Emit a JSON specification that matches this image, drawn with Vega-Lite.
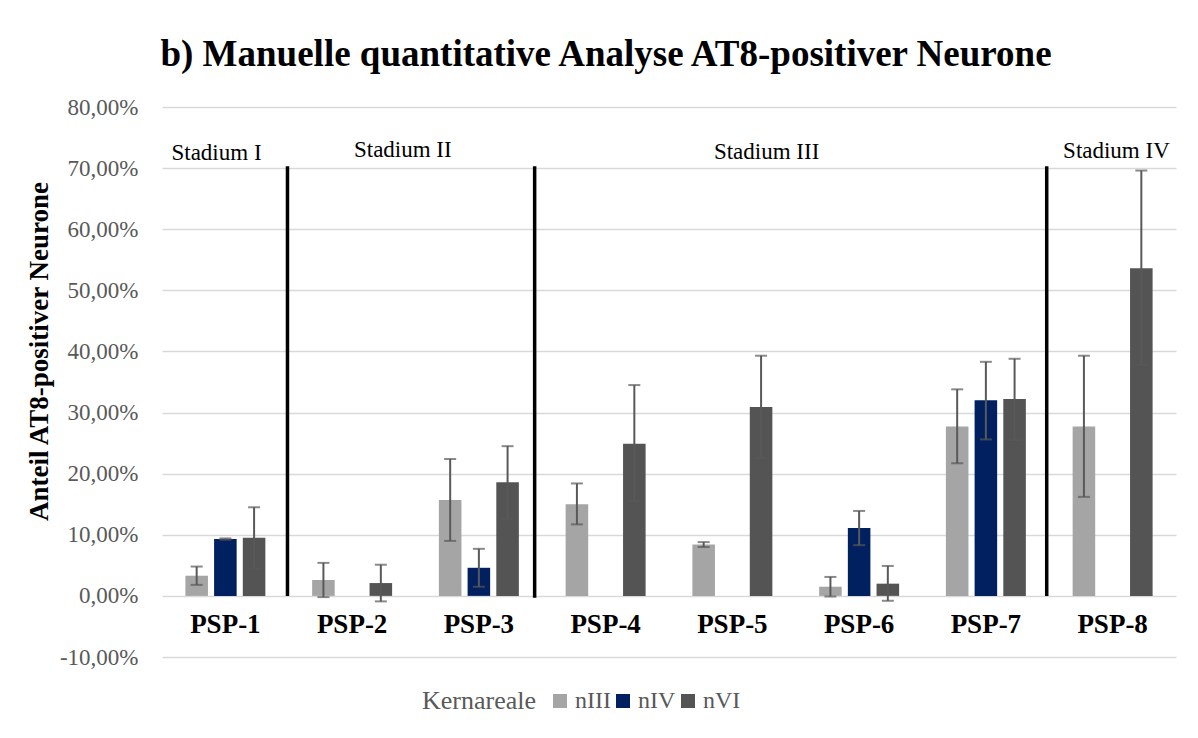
{
  "$schema": "https://vega.github.io/schema/vega-lite/v6.json",
  "autosize": "none",
  "width": 1014,
  "height": 550,
  "padding": {"left": 162, "top": 107, "right": 22, "bottom": 81},
  "background": "white",
  "title": {
    "text": "b) Manuelle quantitative Analyse AT8-positiver Neurone",
    "font": "Liberation Serif",
    "fontSize": 37,
    "fontWeight": "bold",
    "color": "black",
    "anchor": "middle",
    "offset": 22,
    "dx": -63
  },
  "config": {"view": {"stroke": null}, "font": "Liberation Serif"},
  "datasets": {
    "bars": [
      {"psp": "PSP-1", "area": "nIII", "value": 0.033, "lo": 0.018, "hi": 0.048},
      {"psp": "PSP-1", "area": "nIV", "value": 0.093, "lo": 0.092, "hi": 0.094},
      {"psp": "PSP-1", "area": "nVI", "value": 0.095, "lo": 0.045, "hi": 0.145},
      {"psp": "PSP-2", "area": "nIII", "value": 0.026, "lo": -0.002, "hi": 0.054},
      {"psp": "PSP-2", "area": "nVI", "value": 0.021, "lo": -0.009, "hi": 0.051},
      {"psp": "PSP-3", "area": "nIII", "value": 0.157, "lo": 0.090, "hi": 0.224},
      {"psp": "PSP-3", "area": "nIV", "value": 0.046, "lo": 0.015, "hi": 0.077},
      {"psp": "PSP-3", "area": "nVI", "value": 0.186, "lo": 0.126, "hi": 0.245},
      {"psp": "PSP-4", "area": "nIII", "value": 0.150, "lo": 0.117, "hi": 0.184},
      {"psp": "PSP-4", "area": "nVI", "value": 0.249, "lo": 0.155, "hi": 0.345},
      {"psp": "PSP-5", "area": "nIII", "value": 0.084, "lo": 0.080, "hi": 0.088},
      {"psp": "PSP-5", "area": "nVI", "value": 0.309, "lo": 0.226, "hi": 0.393},
      {"psp": "PSP-6", "area": "nIII", "value": 0.015, "lo": -0.001, "hi": 0.031},
      {"psp": "PSP-6", "area": "nIV", "value": 0.111, "lo": 0.083, "hi": 0.139},
      {"psp": "PSP-6", "area": "nVI", "value": 0.020, "lo": -0.008, "hi": 0.049},
      {"psp": "PSP-7", "area": "nIII", "value": 0.277, "lo": 0.217, "hi": 0.338},
      {"psp": "PSP-7", "area": "nIV", "value": 0.320, "lo": 0.256, "hi": 0.383},
      {"psp": "PSP-7", "area": "nVI", "value": 0.322, "lo": 0.255, "hi": 0.388},
      {"psp": "PSP-8", "area": "nIII", "value": 0.277, "lo": 0.162, "hi": 0.393},
      {"psp": "PSP-8", "area": "nVI", "value": 0.536, "lo": 0.378, "hi": 0.696}
    ],
    "stages": [
      {"label": "Stadium I", "pos": 0.43, "ypos": 0.725},
      {"label": "Stadium II", "pos": 1.90, "ypos": 0.730},
      {"label": "Stadium III", "pos": 4.77, "ypos": 0.727},
      {"label": "Stadium IV", "pos": 7.53, "ypos": 0.728}
    ],
    "seps": [
      {"pos": 0.99, "y0": 0.0, "y1": 0.703},
      {"pos": 2.94, "y0": -0.003, "y1": 0.703},
      {"pos": 6.98, "y0": 0.0, "y1": 0.703}
    ]
  },
  "resolve": {"scale": {"x": "independent"}},
  "layer": [
    {
      "data": {"name": "bars"},
      "encoding": {
        "x": {
          "field": "psp",
          "type": "nominal",
          "sort": null,
          "scale": {"paddingInner": 0.36, "paddingOuter": 0.18},
          "axis": {
            "title": null,
            "orient": "bottom",
            "offset": -61,
            "domain": false,
            "ticks": false,
            "grid": false,
            "labelAngle": 0,
            "labelFont": "Liberation Serif",
            "labelFontSize": 27,
            "labelFontWeight": "bold",
            "labelColor": "black",
            "labelPadding": 15
          }
        },
        "xOffset": {
          "field": "area",
          "type": "nominal",
          "sort": ["nIII", "nIV", "nVI"],
          "scale": {"domain": ["nIII", "nIV", "nVI"], "paddingInner": 0.214, "paddingOuter": 0.02}
        }
      },
      "layer": [
        {
          "mark": {"type": "bar"},
          "encoding": {
            "y": {
              "field": "value",
              "type": "quantitative",
              "scale": {"domain": [-0.1, 0.8], "nice": false, "zero": true},
              "axis": {
                "title": "Anteil AT8-positiver Neurone",
                "values": [-0.1, 0, 0.1, 0.2, 0.3, 0.4, 0.5, 0.6, 0.7, 0.8],
                "labelExpr": "replace(replace(format(datum.value, '.2%'), '.', ','), '\u2212', '-')",
                "domain": false,
                "ticks": false,
                "grid": true,
                "gridColor": "#D9D9D9",
                "gridWidth": 1.5,
                "labelFont": "Liberation Serif",
                "labelFontSize": 23,
                "labelColor": "#595959",
                "labelPadding": 24,
                "titleFont": "Liberation Serif",
                "titleFontSize": 27,
                "titleFontWeight": "bold",
                "titleColor": "black",
                "titlePadding": 6,
                "titleY": 244
              }
            },
            "color": {
              "field": "area",
              "type": "nominal",
              "scale": {"domain": ["nIII", "nIV", "nVI"], "range": ["#A5A5A5", "#002060", "#545454"]},
              "legend": {
                "title": "Kernareale",
                "orient": "none",
                "legendX": 260,
                "legendY": 582,
                "direction": "horizontal",
                "titleOrient": "left",
                "titleFont": "Liberation Serif",
                "titleFontSize": 26,
                "titleFontWeight": "normal",
                "titleColor": "#595959",
                "titlePadding": 11,
                "labelFont": "Liberation Serif",
                "labelFontSize": 24,
                "labelColor": "#595959",
                "labelOffset": 3,
                "columnPadding": -7,
                "symbolType": "square",
                "symbolSize": 196,
                "symbolStrokeWidth": 0
              }
            }
          }
        },
        {
          "mark": {"type": "rule", "color": "#595959", "strokeWidth": 2},
          "encoding": {
            "y": {"field": "lo", "type": "quantitative"},
            "y2": {"field": "hi"}
          }
        },
        {
          "mark": {"type": "tick", "color": "#595959", "thickness": 2, "size": 12},
          "encoding": {"y": {"field": "lo", "type": "quantitative"}}
        },
        {
          "mark": {"type": "tick", "color": "#595959", "thickness": 2, "size": 12},
          "encoding": {"y": {"field": "hi", "type": "quantitative"}}
        }
      ]
    },
    {
      "layer": [
        {
          "data": {"name": "seps"},
          "mark": {"type": "rule", "color": "black", "strokeWidth": 3.5},
          "encoding": {
            "x": {"field": "pos", "type": "quantitative", "scale": {"domain": [0, 8], "nice": false, "zero": false}, "axis": null},
            "y": {"field": "y0", "type": "quantitative"},
            "y2": {"field": "y1"}
          }
        },
        {
          "data": {"name": "stages"},
          "mark": {"type": "text", "fontSize": 23, "color": "black", "baseline": "middle", "align": "center", "font": "Liberation Serif"},
          "encoding": {
            "x": {"field": "pos", "type": "quantitative"},
            "y": {"field": "ypos", "type": "quantitative"},
            "text": {"field": "label"}
          }
        }
      ]
    }
  ]
}
